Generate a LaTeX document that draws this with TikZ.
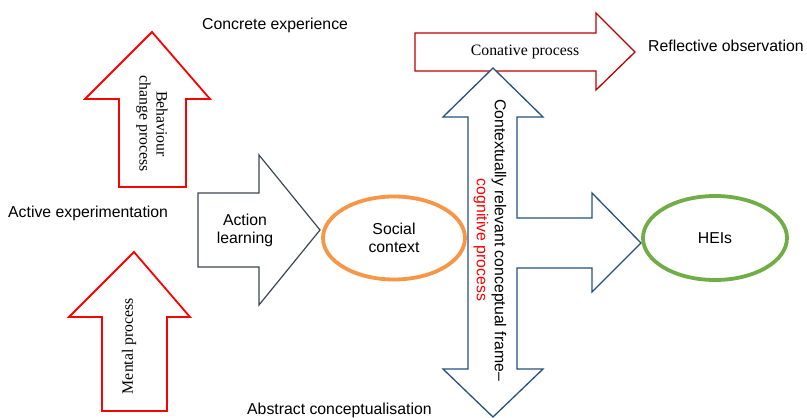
\documentclass[tikz,border=0pt]{standalone}
\usepackage{fontspec}
\usetikzlibrary{shapes.geometric}
\setmainfont{Liberation Sans}
\newfontfamily\serifface{Liberation Serif}
\definecolor{socialorange}{RGB}{247,150,70}
\definecolor{heigreen}{RGB}{112,173,71}
\definecolor{frameblue}{RGB}{38,80,125}
\definecolor{slate}{RGB}{60,70,85}
\definecolor{conred}{RGB}{192,0,0}
\begin{document}
\begin{tikzpicture}[x=1pt,y=-1pt,
  lbl/.style={font=\fontsize{15.8}{18}\selectfont, inner sep=0pt},
  serlbl/.style={font=\serifface\fontsize{15.8}{17}\selectfont, inner sep=0pt, align=center},
  redarrow/.style={draw=red, line width=1.8pt, fill=white},
  darkred/.style={draw=conred, line width=1.3pt, fill=white},
  bluearrow/.style={draw=frameblue, line width=1.3pt, fill=white},
  slatearrow/.style={draw=slate, line width=1.2pt, fill=white},
  oval/.style={ellipse, line width=3.8pt, fill=white, align=center, inner sep=0pt, font=\fontsize{15.8}{18}\selectfont}
]
\useasboundingbox (0,0) rectangle (807,418);

% Block arrows
\draw[redarrow] (152,32) -- (210,99) -- (186,99) -- (186,187) -- (119,187) -- (119,99) -- (85,99) -- cycle;
\draw[redarrow] (134,252) -- (190,317) -- (167,317) -- (167,411) -- (102,411) -- (102,317) -- (69,317) -- cycle;
\draw[slatearrow] (198,193) -- (259,193) -- (259,155) -- (320,230) -- (259,305) -- (259,267) -- (198,267) -- cycle;
\draw[darkred] (415,33) -- (596,33) -- (596,13) -- (635,52) -- (596,90) -- (596,71) -- (415,71) -- cycle;
\draw[bluearrow] (493,68) -- (543,117) -- (517,117) -- (517,218) -- (592,218) -- (592,193) -- (641,243)
  -- (592,292) -- (592,268) -- (517,268) -- (517,369) -- (543,369) -- (493,417) -- (443,369)
  -- (468,369) -- (468,117) -- (443,117) -- cycle;

% Labels inside the arrows
\node[serlbl, rotate=-90] (behav) at (152,124) {Behaviour\\change process};
\node[serlbl, rotate=90] (mental) at (129,346) {Mental process};
\node[serlbl] (conative) at (525,52) {Conative process};
\node[lbl, align=center] (action) at (245,230) {Action\\learning};
\node[lbl, align=center, rotate=-90] (frame) at (490,240) {Contextually relevant conceptual frame--\\\textcolor{red}{cognitive process}};

% Ovals
\node[oval, draw=socialorange, minimum width=142pt, minimum height=83pt] (social) at (394,238) {Social\\context};
\node[oval, draw=heigreen, minimum width=144pt, minimum height=84pt] (heis) at (715,238) {HEIs};

% Stage labels
\node[lbl, anchor=west] (concrete) at (202,25) {Concrete experience};
\node[lbl, anchor=west] (reflect) at (648,46) {Reflective observation};
\node[lbl, anchor=west] (active) at (8,213) {Active experimentation};
\node[lbl, anchor=west] (abstract) at (247,410) {Abstract conceptualisation};
\end{tikzpicture}
\end{document}
